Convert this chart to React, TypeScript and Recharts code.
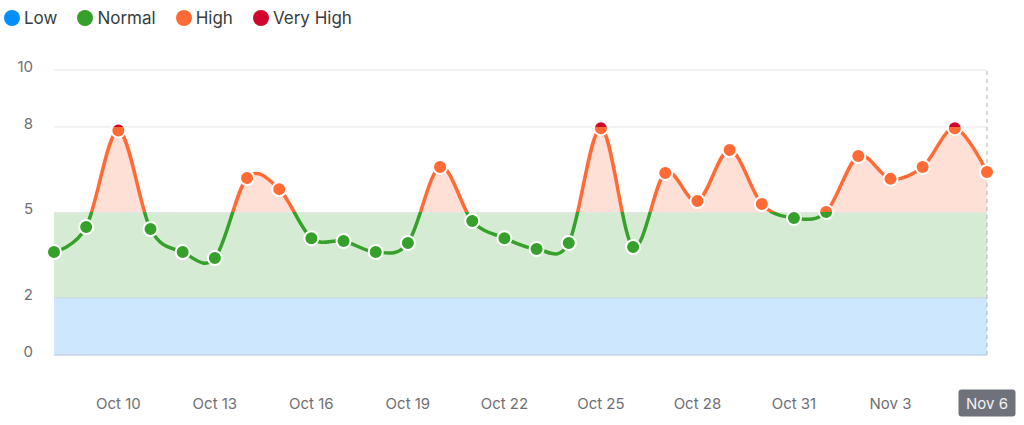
import React from 'react';
import { ComposedChart, Line, Area, XAxis, YAxis, ReferenceArea, ReferenceLine } from 'recharts';

const dates = ['Oct 8','Oct 9','Oct 10','Oct 11','Oct 12','Oct 13','Oct 14','Oct 15','Oct 16','Oct 17','Oct 18','Oct 19','Oct 20','Oct 21','Oct 22','Oct 23','Oct 24','Oct 25','Oct 26','Oct 27','Oct 28','Oct 29','Oct 30','Oct 31','Nov 1','Nov 2','Nov 3','Nov 4','Nov 5','Nov 6'];
const values = [3.61,4.49,7.88,4.42,3.61,3.4,6.21,5.82,4.1,4.0,3.61,3.93,6.6,4.7,4.1,3.72,3.93,7.96,3.79,6.39,5.4,7.19,5.3,4.81,5.02,6.98,6.18,6.6,7.96,6.42];
const xTicks = ['Oct 10','Oct 13','Oct 16','Oct 19','Oct 22','Oct 25','Oct 28','Oct 31','Nov 3','Nov 6'];
const yTicks = [0, 2, 5, 8, 10];
const activeDate = 'Nov 6';
const legendItems = [
  { name: 'Low', color: '#008FFB' },
  { name: 'Normal', color: '#35A02A' },
  { name: 'High', color: '#FF6A35' },
  { name: 'Very High', color: '#D1062F' },
];
const bands = { low: 2, normal: 5, high: 8, max: 10 };

const data = dates.map((d, i) => ({ d, v: values[i] }));

const W = 1024, H = 425;
const TOP = 70, BOTTOM_AXIS = 70, LEFT_AXIS = 54, RIGHT = 37;
const PLOT_BOTTOM = H - BOTTOM_AXIS;

// Catmull-Rom (cardinal, tension 0) curve factory
function pt(that: any, x: number, y: number) {
  that._context.bezierCurveTo(
    that._x1 + that._k * (that._x2 - that._x0),
    that._y1 + that._k * (that._y2 - that._y0),
    that._x2 + that._k * (that._x1 - x),
    that._y2 + that._k * (that._y1 - y),
    that._x2,
    that._y2
  );
}
class Cardinal {
  _context: any; _k: number; _line: number = NaN; _point = 0;
  _x0 = NaN; _x1 = NaN; _x2 = NaN; _y0 = NaN; _y1 = NaN; _y2 = NaN;
  constructor(context: any) { this._context = context; this._k = 1 / 6; }
  areaStart() { this._line = 0; }
  areaEnd() { this._line = NaN; }
  lineStart() {
    this._x0 = this._x1 = this._x2 = this._y0 = this._y1 = this._y2 = NaN;
    this._point = 0;
  }
  lineEnd() {
    switch (this._point) {
      case 2: this._context.lineTo(this._x2, this._y2); break;
      case 3: pt(this, this._x1, this._y1); break;
    }
    if (this._line || (this._line !== 0 && this._point === 1)) this._context.closePath();
    this._line = 1 - this._line;
  }
  point(x: number, y: number) {
    x = +x; y = +y;
    switch (this._point) {
      case 0: this._point = 1; this._line ? this._context.lineTo(x, y) : this._context.moveTo(x, y); break;
      case 1: this._point = 2; this._x1 = x; this._y1 = y; break;
      case 2: this._point = 3; pt(this, x, y); break;
      default: pt(this, x, y); break;
    }
    this._x0 = this._x1; this._x1 = this._x2; this._x2 = x;
    this._y0 = this._y1; this._y1 = this._y2; this._y2 = y;
  }
}
const smooth: any = (ctx: any) => new Cardinal(ctx);

const off = (v: number) => (bands.max - v) / bands.max;

const YTick = (p: any) => (
  <text x={p.x} y={p.y - 4} textAnchor="end" dominantBaseline="central" fontSize={15} fill="#6f6f73" fontFamily="Inter">
    {p.payload.value}
  </text>
);

const XTick = (p: any) => {
  const { x, y, payload } = p;
  const cy = y + 48;
  if (payload.value === activeDate) {
    return (
      <g>
        <rect x={x - 28.5} y={cy - 13.5} width={57} height={27} rx={3} fill="#70727b" />
        <text x={x} y={cy} textAnchor="middle" dominantBaseline="central" fontSize={15} fill="#f2f2f2" fontFamily="Inter">
          {payload.value}
        </text>
      </g>
    );
  }
  return (
    <text x={x} y={cy} textAnchor="middle" dominantBaseline="central" fontSize={15} fill="#6f6f73" fontFamily="Inter">
      {payload.value}
    </text>
  );
};

export default function App() {
  return (
    <div style={{ position: 'absolute', left: 0, top: 0, width: W, height: H, background: '#fff', fontFamily: 'Inter' }}>
      <div style={{ position: 'absolute', left: 4, top: 8, display: 'flex', alignItems: 'center', fontSize: 17, color: '#373d3f', lineHeight: '20px' }}>
        {legendItems.map((it) => (
          <div key={it.name} style={{ display: 'flex', alignItems: 'center', marginRight: 20 }}>
            <span style={{ width: 16, height: 16, borderRadius: '50%', background: it.color, display: 'inline-block', marginRight: 4 }} />
            <span>{it.name}</span>
          </div>
        ))}
      </div>
      <ComposedChart width={W} height={H} data={data} margin={{ top: TOP, right: RIGHT, bottom: 0, left: 0 }}>
        <defs>
          <linearGradient id="lg" gradientUnits="userSpaceOnUse" x1="0" x2="0" y1={TOP} y2={PLOT_BOTTOM}>
            <stop offset={0} stopColor={legendItems[3].color} />
            <stop offset={off(bands.high)} stopColor={legendItems[3].color} />
            <stop offset={off(bands.high)} stopColor={legendItems[2].color} />
            <stop offset={off(bands.normal)} stopColor={legendItems[2].color} />
            <stop offset={off(bands.normal)} stopColor={legendItems[1].color} />
            <stop offset={off(bands.low)} stopColor={legendItems[1].color} />
            <stop offset={off(bands.low)} stopColor={legendItems[0].color} />
            <stop offset={1} stopColor={legendItems[0].color} />
          </linearGradient>
          <linearGradient id="ag" gradientUnits="userSpaceOnUse" x1="0" x2="0" y1={TOP} y2={PLOT_BOTTOM}>
            <stop offset={0} stopColor="#FFE0D6" />
            <stop offset={off(bands.normal)} stopColor="#FFE0D6" />
            <stop offset={off(bands.normal)} stopColor="#FFE0D6" stopOpacity={0} />
            <stop offset={1} stopColor="#FFE0D6" stopOpacity={0} />
          </linearGradient>
        </defs>
        <XAxis dataKey="d" scale="point" padding={{ left: 0, right: 0 }} ticks={xTicks} interval={0}
          axisLine={false} tickLine={false} tickSize={0} tickMargin={0} height={BOTTOM_AXIS} tick={<XTick />} />
        <YAxis type="number" domain={[0, bands.max]} ticks={yTicks} width={LEFT_AXIS} axisLine={false} tickLine={false}
          tickSize={0} tickMargin={21} tick={<YTick />} />
        {yTicks.map((t) => (
          <ReferenceLine key={'g' + t} y={t} stroke="#e6e6ec" strokeWidth={1} />
        ))}
        <ReferenceArea y1={0} y2={bands.low} fill="#CCE7FE" fillOpacity={1} stroke="none" />
        <ReferenceArea y1={bands.low} y2={bands.normal} fill="#D6EBD3" fillOpacity={1} stroke="none" />
        <ReferenceLine y={bands.low} stroke="#bcd6e6" strokeWidth={1} />
        <ReferenceLine y={0} stroke="#b3cbe8" strokeWidth={1} />
        <ReferenceLine y={bands.normal} stroke="#e3e6e3" strokeWidth={1} />
        <Area dataKey="v" type={smooth} baseValue={bands.normal} fill="url(#ag)" fillOpacity={1} stroke="none"
          isAnimationActive={false} activeDot={false} dot={false} />
        <ReferenceLine x={activeDate} stroke="#b4b4b8" strokeDasharray="4 4" strokeWidth={1} />
        <Line dataKey="v" type={smooth} stroke="url(#lg)" strokeWidth={3.5} isAnimationActive={false}
          dot={{ r: 7, fill: 'url(#lg)', stroke: '#fff', strokeWidth: 2, fillOpacity: 1 }} activeDot={false} />
      </ComposedChart>
    </div>
  );
}
